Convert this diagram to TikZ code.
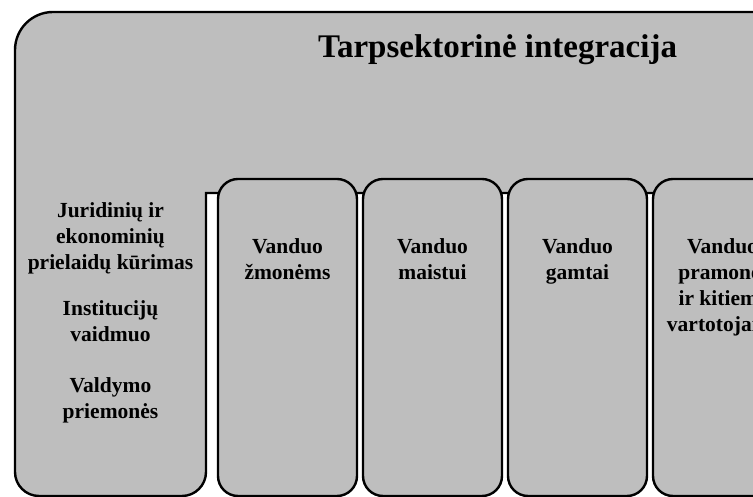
\documentclass[tikz,border=0pt]{standalone}
\usepackage{fontspec}
\setmainfont{Liberation Serif}
\usetikzlibrary{positioning}
\definecolor{panelgray}{RGB}{190,190,190}

\begin{document}
\begin{tikzpicture}[x=1pt,y=1pt,
	band/.style={draw=black,line width=2.4pt,fill=panelgray},
	col/.style={band,rounded corners=20pt,minimum width=139pt,minimum height=317pt,inner sep=0pt},
	lbl/.style={align=center,inner sep=0pt,font=\fontsize{21.5}{26}\selectfont\bfseries},
	ttl/.style={inner sep=0pt,font=\fontsize{33}{40}\selectfont\bfseries}]
	\useasboundingbox (0,0) rectangle (753,497);
	\clip (0,0) rectangle (753,497);
	
	\draw[band] (206,304) -- (206,25) arc[start angle=0,end angle=-90,radius=24]
		-- (39,1) arc[start angle=270,end angle=180,radius=24]
		-- (15,447) arc[start angle=180,end angle=90,radius=38]
		-- (820,485) -- (820,304) -- cycle;
	
	\node[ttl,anchor=base] (title) at (497.5,439) {Tarpsektorinė integracija};
	
	\node[lbl,anchor=north] (rules) at (110.5,295)
		{Juridinių ir\\ekonominių\\prielaidų kūrimas\\[20pt]Institucijų\\vaidmuo\\[25pt]Valdymo\\priemonės};
	
	\foreach \i/\txt in {1/{Vanduo\\žmonėms},2/{Vanduo\\maistui},3/{Vanduo\\gamtai},4/{Vanduo\\pramonei\\ir kitiems\\vartotojams}}
	{
		\node[col] (c\i) at (145*\i+142.5,159.5) {};
		\node[lbl,below=61pt of c\i.north] (t\i) {\txt};
	}
\end{tikzpicture}
\end{document}
